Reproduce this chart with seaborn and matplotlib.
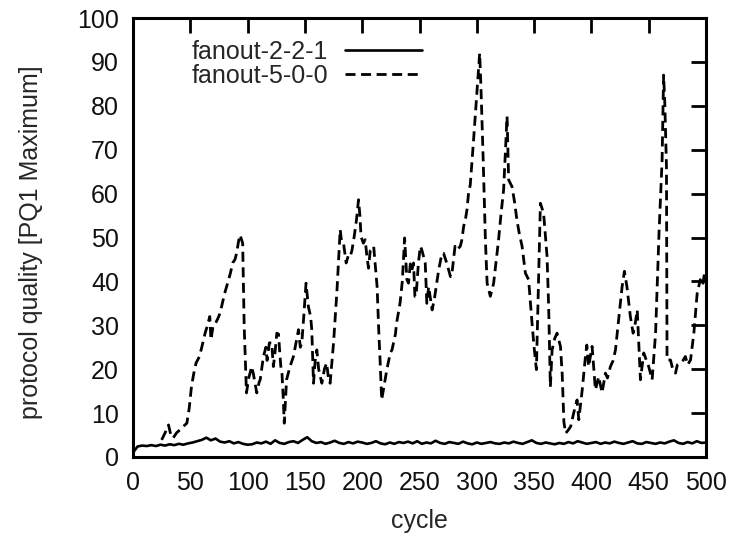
import numpy as np
import pandas as pd
import matplotlib
matplotlib.use("Agg")
import matplotlib.pyplot as plt
import seaborn as sns

# ---------------- data ----------------
series_names = ["fanout-2-2-1", "fanout-5-0-0"]

solid_x = list(range(0, 501, 4))
solid_y = [
    1.0, 2.4, 2.6, 2.5, 2.7, 2.5, 2.8, 2.6, 2.9, 2.7,
    3.0, 2.8, 3.1, 3.3, 3.6, 3.9, 4.4, 3.8, 4.2, 3.5,
    3.3, 3.6, 3.1, 3.4, 3.0, 2.8, 2.9, 3.3, 3.1, 3.5,
    3.0, 3.8, 3.2, 3.0, 3.4, 3.6, 3.2, 3.9, 4.5, 3.6,
    3.2, 3.4, 3.0, 3.3, 3.7, 3.2, 3.0, 3.4, 3.1, 3.5,
    3.3, 3.0, 3.2, 3.6, 3.1, 2.9, 3.3, 3.0, 3.4, 3.2,
    3.5, 3.1, 3.6, 3.0, 3.3, 3.1, 3.7, 3.2, 3.0, 3.4,
    3.2, 3.0, 3.5, 3.1, 2.9, 3.3, 3.0, 3.2, 3.4, 3.1,
    3.0, 3.3, 3.1, 3.5, 3.2, 3.0, 3.4, 3.8, 3.2, 3.0,
    3.3, 3.1, 2.9, 3.2, 3.0, 3.4, 3.1, 3.6, 3.3, 3.0,
    3.2, 3.4, 3.0, 3.3, 3.1, 3.5, 3.2, 3.0, 3.3, 3.6,
    3.1, 3.0, 3.4, 3.2, 3.0, 3.3, 3.1, 3.5, 3.8, 3.2,
    3.0, 3.4, 3.1, 3.6, 3.2, 3.3,
]

dashed_x = [
    25, 28, 31, 33, 35, 38, 41, 44, 47, 49,
    51, 53, 55, 58, 60, 63, 65, 67, 68, 70,
    72, 74, 76, 78, 80, 83, 85, 87, 89, 90.5,
    92, 93.4, 95.7, 97, 98, 99, 101, 103.6, 105, 108,
    110, 111, 113.8, 116, 117, 119, 121, 122.5, 124, 125.5,
    127, 128, 129, 130, 131, 132, 134, 137, 140, 143,
    144.4, 146, 147.3, 149, 151, 152, 153, 155, 156, 157.5,
    159, 160.4, 162, 164.8, 167, 169, 170.5, 172, 175, 178,
    180.8, 182, 183.7, 186, 188, 189.5, 191, 193, 195, 196.8,
    198, 199, 201, 202.6, 204, 205.5, 207, 210, 212, 213,
    214.4, 215.7, 217, 219, 220, 221.5, 224.5, 226, 229, 230,
    233, 235, 237, 239, 240.4, 242, 243.4, 244.8, 246, 247,
    249, 250.7, 252, 255, 256.4, 258, 261, 263, 265, 267,
    269.6, 271, 274, 277, 278, 281, 282.7, 285.6, 287, 288.5,
    290, 291.4, 292.8, 294.3, 297.2, 300.2, 302.5, 303.7, 305.5, 307.5,
    309, 311.8, 314.7, 317, 319, 321, 323.4, 325, 326.4, 327.8,
    330.7, 333, 335, 337, 339.5, 342.4, 345.2, 348.2, 350, 352,
    354, 355.5, 358.3, 360, 361.3, 362.7, 364.2, 365.7, 368, 370,
    373, 374.5, 376, 377.5, 380, 382, 384.5, 387.5, 389, 392,
    394.8, 396, 397.6, 400.6, 403.5, 406.4, 409.3, 412.2, 414, 416.6,
    419, 421, 423.8, 426.8, 428.8, 431, 434, 436.4, 438, 440,
    442, 442.8, 445.7, 448, 450, 453, 456, 459, 461.7, 463,
    464, 465.5, 466, 469, 471, 473.4, 475, 477.7, 480, 482,
    484, 486.5, 489.4, 492.3, 495, 497, 498.7, 500,
]
dashed_y = [
    3.9, 5.5, 7.3, 5.0, 4.3, 5.5, 6.2, 7.0, 7.7, 11,
    16, 19, 21.4, 22.9, 25, 28.3, 30, 32, 26.7, 30,
    30.5, 31.5, 32.8, 35, 37.3, 40, 41.9, 44.2, 45, 46.5,
    49, 50.6, 48.7, 30, 22, 14.6, 18, 20.6, 19, 14.6,
    17, 17.6, 22.9, 25, 22, 26, 26, 20.6, 24, 28.2,
    28, 24, 20.6, 19, 14, 7.7, 17.6, 20.6, 22.9, 27,
    29, 25, 26, 32, 39.6, 37, 34.3, 32, 29, 16.8,
    22, 24.4, 20, 16.8, 20, 21.4, 18, 16.8, 26, 38,
    51.8, 49, 48.7, 44.2, 46, 45.7, 47, 50.2, 54, 58.6,
    55, 50.2, 48.7, 49.5, 46, 43, 47, 48, 42, 38.8,
    29, 21.4, 13, 16, 17.6, 19.9, 23.7, 24.4, 28, 30.5,
    35, 40, 49.9, 40.4, 39.6, 44, 42.6, 44.2, 36.6, 36.6,
    44, 48, 47.2, 44.2, 35, 38.8, 33.5, 36, 39.6, 43,
    46.4, 46.4, 44, 41.1, 41.1, 48, 47.2, 48, 49.5, 52.5,
    54, 56.3, 60.1, 62, 72.3, 83.6, 92, 83.6, 68.4, 49.5,
    39.6, 36.6, 39.6, 45, 49.5, 55, 60.9, 70, 77.6, 63.1,
    61.6, 58, 54, 51, 48, 41.9, 40.4, 30.5, 25, 19.9,
    41.9, 57.8, 55.5, 50, 45.7, 34.3, 16, 24.4, 27, 28.2,
    25.2, 19, 8, 5.4, 6.2, 7, 10, 13, 8.5, 15.3,
    22.9, 25.5, 20.6, 25.2, 15.3, 18.3, 14.6, 19.1, 18, 20.6,
    22, 24.4, 31.3, 38.8, 42.3, 38.8, 32, 28.2, 30, 33.5,
    22.1, 17.6, 23.7, 22, 20.6, 17.6, 28.2, 51, 67.7, 87,
    81, 66.2, 22.1, 22.1, 20, 19.1, 21, 21.4, 22, 22.9,
    21, 22.1, 28.2, 37.3, 40.4, 39, 41.9, 40,
]

x_ticks = list(range(0, 501, 50))
y_ticks = list(range(0, 101, 10))
x_label = "cycle"
y_label = "protocol quality [PQ1 Maximum]"

# ---------------- style ----------------
sns.set_style("white")
plt.rcParams["font.family"] = ["Liberation Sans", "DejaVu Sans"]
plt.rcParams["font.size"] = 18

df_solid = pd.DataFrame({"cycle": solid_x, "quality": solid_y})
df_dash = pd.DataFrame({"cycle": dashed_x, "quality": dashed_y})

fig = plt.figure(figsize=(7.37, 5.34), dpi=100)
ax = fig.add_axes([133 / 737, (534 - 457) / 534, 573 / 737, 439 / 534])

sns.lineplot(data=df_solid, x="cycle", y="quality", ax=ax, color="black",
             lw=1.9, label=series_names[0], estimator=None, sort=False)
sns.lineplot(data=df_dash, x="cycle", y="quality", ax=ax, color="black",
             lw=2.0, label=series_names[1], estimator=None, sort=False)
ax.lines[1].set_linestyle((0, (3.6, 2.0)))

ax.set_xlim(0, 500)
ax.set_ylim(0, 100)
ax.set_xticks(x_ticks)
ax.set_yticks(y_ticks)

for s in ax.spines.values():
    s.set_visible(True)
    s.set_linewidth(2.2)
    s.set_color("black")

ax.tick_params(axis="both", which="major", direction="in", length=11,
               width=2.0, color="black", labelsize=18, pad=10,
               top=True, right=True, labelcolor="#111111")

ax.set_xlabel(x_label, fontsize=18)
ax.set_ylabel(y_label, fontsize=18)
ax.xaxis.set_label_coords(0.5, -0.118)
ax.yaxis.set_label_coords(-0.157, 0.49)

handles, labels = ax.get_legend_handles_labels()
leg = ax.legend(handles, labels, loc="upper right", bbox_to_anchor=(0.505, 0.950),
                frameon=False, markerfirst=False, handlelength=3.1,
                handletextpad=0.68, labelspacing=0.0, borderpad=0,
                borderaxespad=0, fontsize=18)

fig.savefig("out.png", dpi=100)
